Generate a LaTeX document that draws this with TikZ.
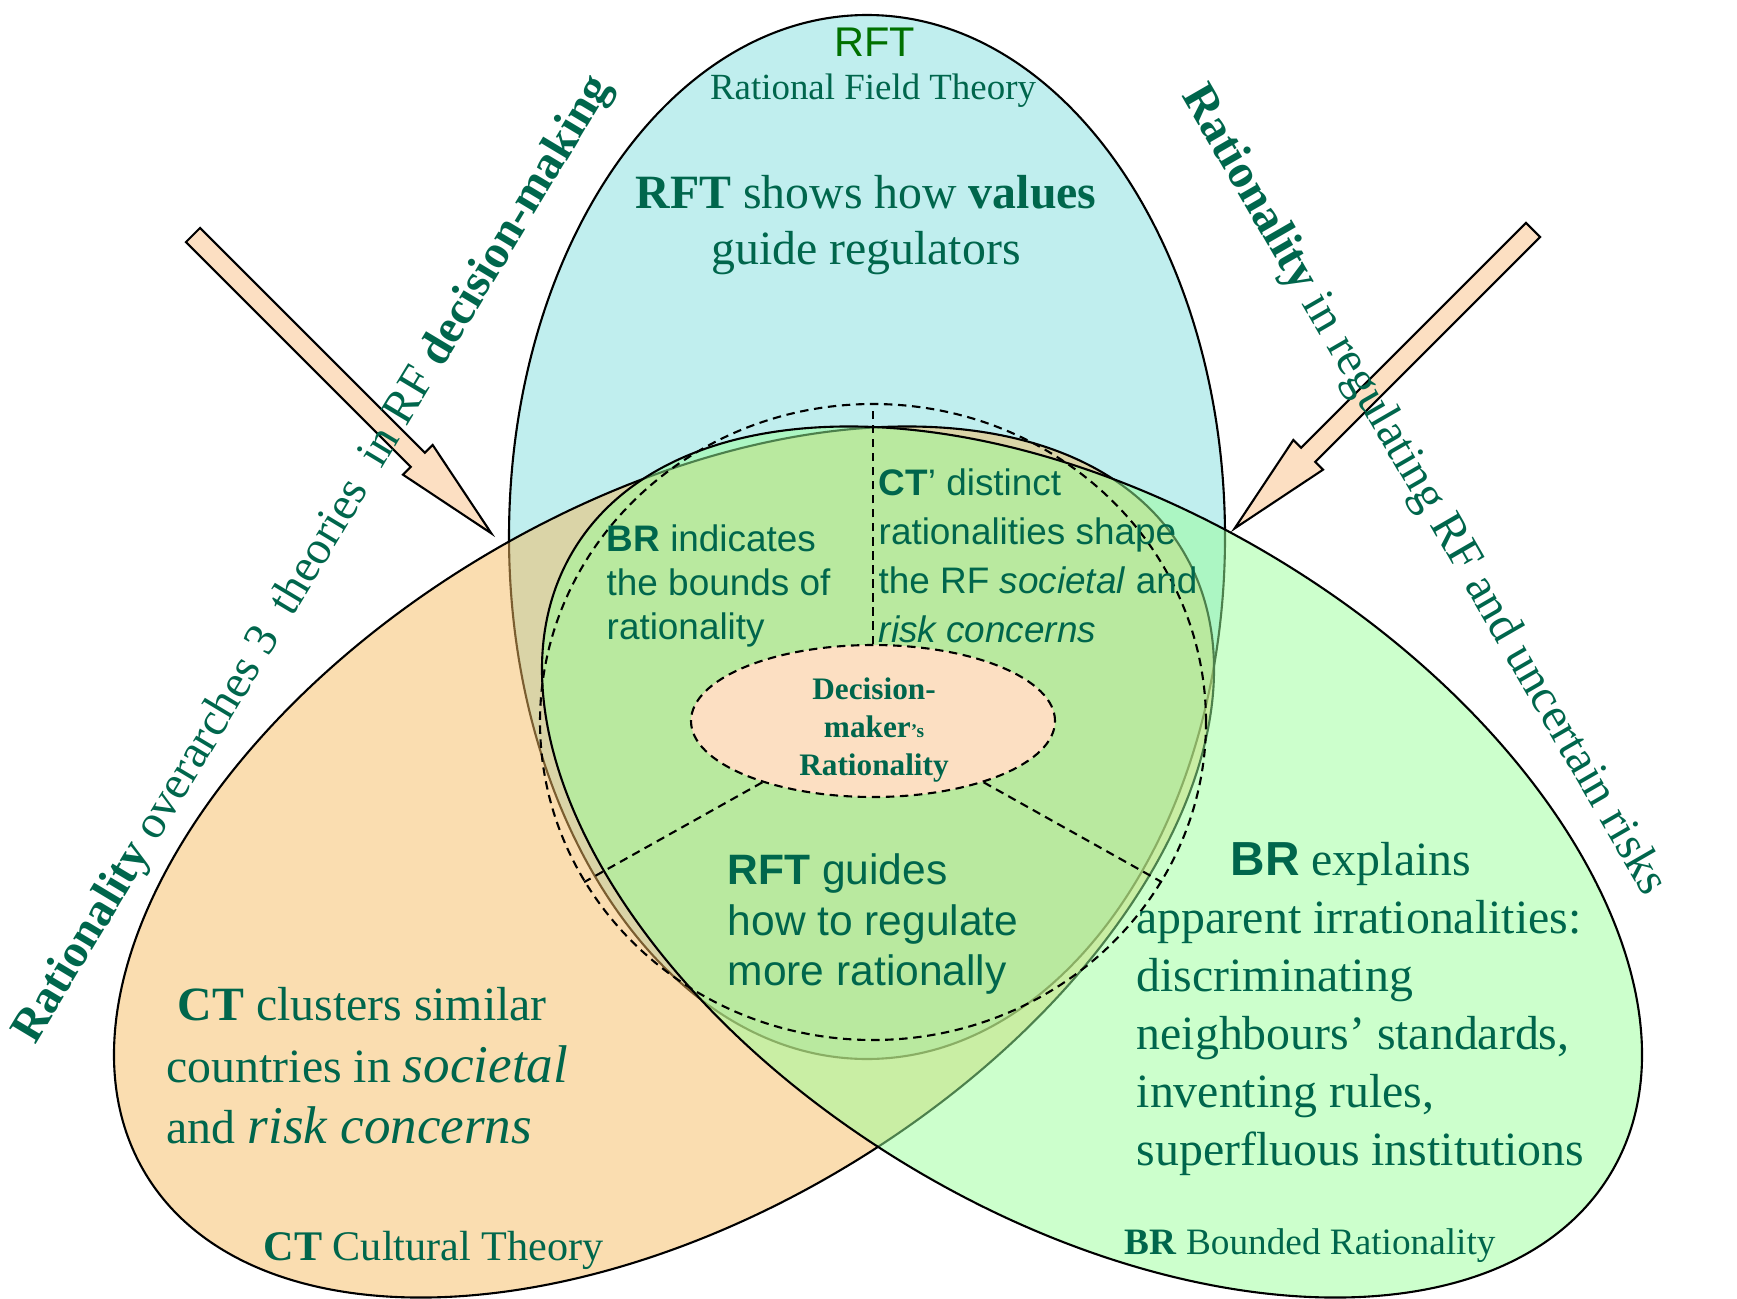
\documentclass[tikz,border=0pt]{standalone}
\usepackage{fontspec}
\setmainfont{Liberation Serif}
\setsansfont{Liberation Sans}
\usetikzlibrary{shapes.geometric}

\definecolor{rftblue}{RGB}{192,238,238}
\definecolor{ctorange}{RGB}{245,187,97}
\definecolor{brgreen}{RGB}{153,255,153}
\definecolor{peach}{RGB}{252,223,194}
\definecolor{txtgreen}{RGB}{0,102,76}
\definecolor{titlegreen}{RGB}{0,112,0}

\newcommand{\txtsize}[2]{\fontsize{#1}{#2}\selectfont}

\begin{document}
\begin{tikzpicture}[x=0.1mm,y=-0.1mm,
    theory/.style={ellipse,draw,line width=0.6pt,inner sep=0pt},
    part/.style={draw,dash pattern=on 2.4pt off 1.6pt,line width=0.6pt},
    txt/.style={text=txtgreen,inner sep=0pt},
    fatarrow/.style={draw,fill=peach,line width=0.6pt,line join=miter}]

  \useasboundingbox (0,0) rectangle (1737,1298);

  % the three theories
  \node[theory,fill=rftblue,minimum width=71.6mm,minimum height=104.4mm] (rft) at (867,537) {};
  \node[theory,fill=ctorange,fill opacity=0.5,minimum width=121mm,minimum height=71mm,rotate=31] (ct) at (664,862) {};
  \node[theory,fill=brgreen,fill opacity=0.5,minimum width=121mm,minimum height=71mm,rotate=-31] (br) at (1092,862) {};

  % decision-maker in the middle
  \node[ellipse,part,inner sep=0pt,minimum width=66.6mm,minimum height=63.6mm] (ring) at (873,722) {};
  \node[ellipse,part,fill=peach,inner sep=0pt,minimum width=36.4mm,minimum height=15.2mm] (dm) at (873,721) {};
  \path (dm.90) edge[part] (ring.90)
        (dm.209) edge[part] (ring.209)
        (dm.331) edge[part] (ring.331);

  % arrows
  \draw[fatarrow,shift={(193,235)},rotate=-45] (0,-10) -- (318,-10) -- (318,-21) -- (422,0) -- (318,21) -- (318,10) -- (0,10) -- cycle;
  \draw[fatarrow,shift={(1533,230)},rotate=-135] (0,-10) -- (318,-10) -- (318,-21) -- (422,0) -- (318,21) -- (318,10) -- (0,10) -- cycle;

  % labels
  \node[txt,text=titlegreen,font=\txtsize{11.8}{14}\sffamily] (rfttitle) at (875,42) {RFT};
  \node[txt,font=\txtsize{10.5}{12}] (rftname) at (873,91) {Rational Field Theory};
  \node[txt,font=\txtsize{13.6}{15.9},align=center] (rftnote) at (866,225) {\textbf{RFT} shows how \textbf{values}\\guide regulators};

  \node[txt,font=\txtsize{10.5}{12.4}\sffamily,align=left,anchor=west] (brinner) at (606,586) {\textbf{BR} indicates\\the bounds of\\rationality};
  \node[txt,font=\txtsize{10.5}{13.9}\sffamily,align=left,anchor=west] (ctinner) at (878,556) {\textbf{CT}’ distinct\\rationalities shape\\the RF \textit{societal} and\\\textit{risk concerns}};
  \node[txt,font=\txtsize{12.1}{14.5}\sffamily,align=left,anchor=west] (rftinner) at (727,924) {\textbf{RFT} guides\\how to regulate\\more rationally};
  \node[txt,font=\txtsize{8.9}{10.8}\bfseries,align=center] (dmtext) at (874,730) {Decision-\\maker{\txtsize{5.5}{6}’s}\\Rationality};

  \node[txt,font=\txtsize{13.6}{17.5},align=left,anchor=west] (ctnote) at (166,1066) {\hspace*{1.1mm}\textbf{CT} clusters similar\\countries in {\txtsize{15.1}{17.5}\itshape societal}\\and {\txtsize{15.1}{17.5}\itshape risk concerns}};
  \node[txt,font=\txtsize{13.6}{16.5},align=left,anchor=west] (brnote) at (1136,1009) {\hspace*{9.4mm}\textsf{\textbf{BR}} explains\\apparent irrationalities:\\discriminating\\neighbours’ standards,\\inventing rules,\\superfluous institutions};

  \node[txt,font=\txtsize{12}{14},anchor=west] (ctname) at (263,1250) {\textbf{CT} Cultural Theory};
  \node[txt,font=\txtsize{10.6}{12},anchor=west] (brname) at (1124,1246) {\textbf{BR} Bounded Rationality};

  % side statements
  \node[txt,font=\txtsize{13.4}{16},rotate=59] (overarch) at (314,560) {\textbf{Rationality} overarches 3\ \ theories\ \ in RF \textbf{decision-making}};
  \node[txt,font=\txtsize{13.6}{16},rotate=-60] (regulating) at (1423,491) {\textbf{Rationality} in regulating RF and uncertain risks};
\end{tikzpicture}
\end{document}
